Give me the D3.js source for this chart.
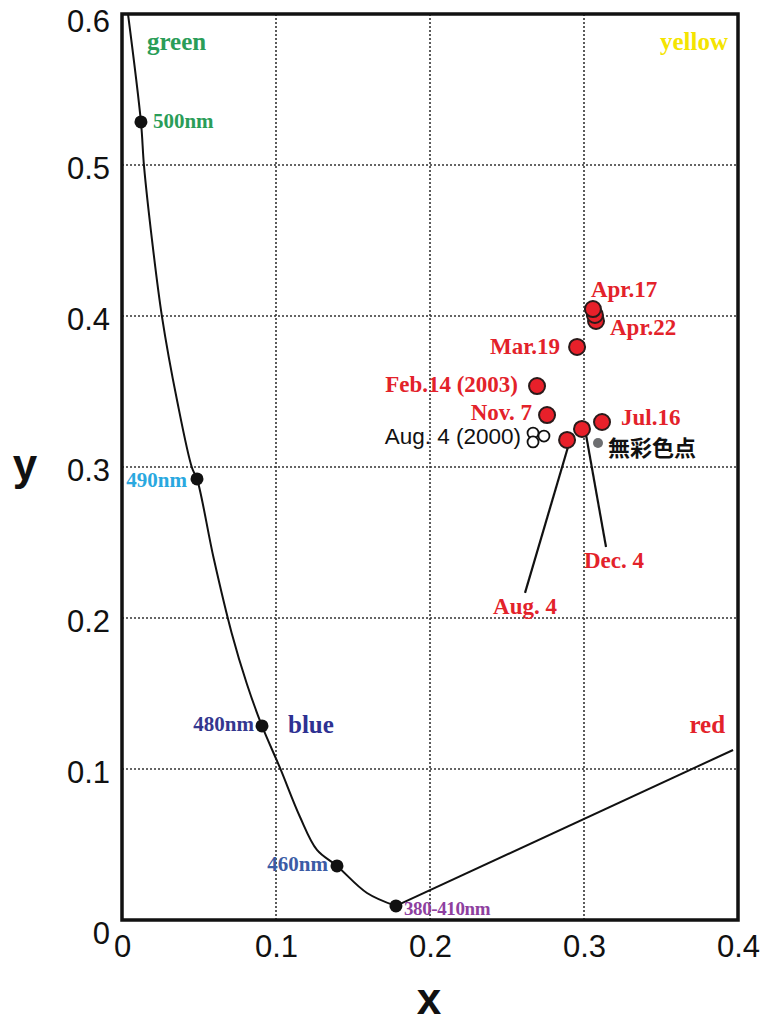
<!DOCTYPE html>
<html>
<head>
<meta charset="utf-8">
<script src="https://cdn.jsdelivr.net/npm/d3@7"></script>
<style>
  body { margin: 0; background: #fff; }
  svg { display: block; }
</style>
</head>
<body>
<svg class="main-svg" width="764" height="1023"></svg>
<script>
// spectral locus (chromaticity x, y)
const locus = [
  [0.0039, 0.600], [0.0123, 0.5285], [0.0143, 0.4993], [0.0195, 0.4503],
  [0.0260, 0.3993], [0.0357, 0.3444], [0.0455, 0.2993], [0.0487, 0.2921],
  [0.0595, 0.2397], [0.0712, 0.1901], [0.0811, 0.1563], [0.0909, 0.1285],
  [0.1026, 0.1007], [0.1156, 0.0682], [0.1266, 0.0464], [0.1396, 0.0358],
  [0.1591, 0.0179], [0.1779, 0.0093]
];
// purple line toward red
const purpleLine = [[0.1779, 0.0093], [0.3968, 0.1126]];

const wavelengths = ["500nm", "490nm", "480nm", "460nm", "380-410nm"];
const waveX = [0.0123, 0.0487, 0.0909, 0.1396, 0.1779];
const waveY = [0.5285, 0.2921, 0.1285, 0.0358, 0.0093];

const dates = ["Aug. 4", "Dec. 4", "Jul.16", "Nov. 7", "Feb.14 (2003)", "Mar.19", "Apr.22", "", "Apr.17"];
const dateX = [0.2890, 0.2987, 0.3117, 0.2760, 0.2695, 0.2955, 0.3078, 0.3071, 0.3058];
const dateY = [0.3179, 0.3252, 0.3298, 0.3344, 0.3536, 0.3795, 0.3967, 0.4007, 0.4046];

// Aug. 4 (2000) open circles
const oldX = [0.2669, 0.2669, 0.2740];
const oldY = [0.3225, 0.3166, 0.3205];

// achromatic point
const whitePoint = [0.3091, 0.3159];

// leader line ends for Aug. 4 / Dec. 4
const leaderEnds = [[0.2617, 0.2166], [0.3143, 0.2470]];

const xTicks = [0, 0.1, 0.2, 0.3, 0.4];
const yTicks = [0, 0.1, 0.2, 0.3, 0.4, 0.5, 0.6];

const svg = d3.select(".main-svg");
const plotL = 122, plotR = 738, plotT = 14, plotB = 920;

const x = d3.scaleLinear().domain([0, 0.4]).range([plotL, plotR]);
const y = d3.scaleLinear().domain([0, 0.6]).range([plotB, plotT]);

const serif = "'Liberation Serif', 'Times New Roman', serif";
const sans = "'Liberation Sans', Arial, Helvetica, sans-serif";

// grid
const grid = svg.append("g")
  .attr("stroke", "#333")
  .attr("stroke-width", 1.6)
  .attr("stroke-dasharray", "2,2");

grid.selectAll(".gx")
  .data(xTicks.slice(1, -1))
  .join("line")
    .attr("class", "gx")
    .attr("x1", d => x(d)).attr("x2", d => x(d))
    .attr("y1", plotT).attr("y2", plotB);

grid.selectAll(".gy")
  .data(yTicks.slice(1, -1))
  .join("line")
    .attr("class", "gy")
    .attr("x1", plotL).attr("x2", plotR)
    .attr("y1", d => y(d)).attr("y2", d => y(d));

// axes tick labels
const fmt = d => d === 0 ? "0" : d3.format(".1f")(d);

const xAxis = svg.append("g")
  .attr("transform", `translate(0,${plotB})`)
  .call(d3.axisBottom(x).tickValues(xTicks).tickSize(0).tickPadding(15).tickFormat(fmt));
xAxis.select(".domain").remove();
xAxis.selectAll("text")
  .attr("font-family", sans)
  .attr("font-size", 31)
  .attr("fill", "#111");

const yAxis = svg.append("g")
  .attr("transform", `translate(${plotL},0)`)
  .call(d3.axisLeft(y).tickValues(yTicks).tickSize(0).tickPadding(12).tickFormat(fmt));
yAxis.select(".domain").remove();
yAxis.selectAll("text")
  .attr("font-family", sans)
  .attr("font-size", 31)
  .attr("fill", "#111")
  .attr("dy", d => d === 0 ? "0.75em" : d === 0.6 ? "0.55em" : "0.42em");

// axis titles
svg.append("text")
  .attr("x", 25).attr("y", 480)
  .attr("text-anchor", "middle")
  .attr("font-family", sans)
  .attr("font-weight", "bold")
  .attr("font-size", 44)
  .attr("fill", "#111")
  .text("y");

svg.append("text")
  .attr("x", 429).attr("y", 1014)
  .attr("text-anchor", "middle")
  .attr("font-family", sans)
  .attr("font-weight", "bold")
  .attr("font-size", 44)
  .attr("fill", "#111")
  .text("x");

// locus curve
const line = d3.line().x(d => x(d[0])).y(d => y(d[1]));

svg.append("path")
  .datum(locus)
  .attr("d", line.curve(d3.curveCatmullRom))
  .attr("fill", "none")
  .attr("stroke", "#111")
  .attr("stroke-width", 2);

svg.append("path")
  .datum(purpleLine)
  .attr("d", d3.line().x(d => x(d[0])).y(d => y(d[1])))
  .attr("fill", "none")
  .attr("stroke", "#111")
  .attr("stroke-width", 2);

// frame
svg.append("rect")
  .attr("x", plotL).attr("y", plotT)
  .attr("width", plotR - plotL).attr("height", plotB - plotT)
  .attr("fill", "none")
  .attr("stroke", "#111")
  .attr("stroke-width", 3.5);

// region names
const regions = [
  { name: "green", x: 0.0162, y: 0.5762, anchor: "start", color: "#2a9d58" },
  { name: "yellow", x: 0.3935, y: 0.5762, anchor: "end", color: "#f4e400" },
  { name: "blue", x: 0.1078, y: 0.1238, anchor: "start", color: "#2e3192" },
  { name: "red", x: 0.3916, y: 0.1238, anchor: "end", color: "#e3222a" }
];
svg.append("g")
  .selectAll("text")
  .data(regions)
  .join("text")
    .attr("x", d => x(d.x))
    .attr("y", d => y(d.y))
    .attr("text-anchor", d => d.anchor)
    .attr("font-family", serif)
    .attr("font-weight", "bold")
    .attr("font-size", 25)
    .attr("fill", d => d.color)
    .text(d => d.name);

// wavelength dots + labels
const waveStyle = [
  { dx: 12, dy: 6, anchor: "start", color: "#2a9d58", size: 21 },
  { dx: -10, dy: 8, anchor: "end", color: "#29a8e0", size: 21 },
  { dx: -8, dy: 5, anchor: "end", color: "#34378f", size: 21 },
  { dx: -9, dy: 5, anchor: "end", color: "#3b5ba5", size: 21 },
  { dx: 8, dy: 9, anchor: "start", color: "#8e3f9f", size: 19 }
];
const waves = wavelengths.map((w, i) => ({ name: w, x: waveX[i], y: waveY[i], ...waveStyle[i] }));

svg.append("g")
  .selectAll("circle")
  .data(waves)
  .join("circle")
    .attr("cx", d => x(d.x))
    .attr("cy", d => y(d.y))
    .attr("r", 6.5)
    .attr("fill", "#111");

svg.append("g")
  .selectAll("text")
  .data(waves)
  .join("text")
    .attr("x", d => x(d.x) + d.dx)
    .attr("y", d => y(d.y) + d.dy)
    .attr("text-anchor", d => d.anchor)
    .attr("font-family", serif)
    .attr("font-weight", "bold")
    .attr("font-size", d => d.size)
    .attr("letter-spacing", d => d.size < 20 ? -0.4 : 0)
    .attr("fill", d => d.color)
    .text(d => d.name);

// leader lines (Aug. 4, Dec. 4)
const leaders = leaderEnds.map((e, i) => ({ from: [dateX[i], dateY[i]], to: e, name: dates[i] }));
svg.append("g")
  .selectAll("line")
  .data(leaders)
  .join("line")
    .attr("x1", d => x(d.from[0]) + 3)
    .attr("y1", d => y(d.from[1]))
    .attr("x2", d => x(d.to[0]))
    .attr("y2", d => y(d.to[1]))
    .attr("stroke", "#111")
    .attr("stroke-width", 2.2);

// old measurements (open circles)
const olds = oldX.map((v, i) => ({ x: v, y: oldY[i] }));
svg.append("g")
  .selectAll("circle")
  .data(olds)
  .join("circle")
    .attr("cx", d => x(d.x))
    .attr("cy", d => y(d.y))
    .attr("r", 5.5)
    .attr("fill", "#fff")
    .attr("stroke", "#111")
    .attr("stroke-width", 1.8);

svg.append("text")
  .attr("x", x(oldX[0]) - 12)
  .attr("y", y(oldY[0]) + 11)
  .attr("text-anchor", "end")
  .attr("font-family", sans)
  .attr("font-size", 22.5)
  .attr("fill", "#111")
  .text("Aug. 4 (2000)");

// achromatic point
svg.append("circle")
  .attr("cx", x(whitePoint[0]))
  .attr("cy", y(whitePoint[1]))
  .attr("r", 5)
  .attr("fill", "#6d6e71");

svg.append("text")
  .attr("x", x(whitePoint[0]) + 10)
  .attr("y", y(whitePoint[1]) + 13)
  .attr("font-family", "'Noto Sans CJK JP', sans-serif")
  .attr("font-weight", "bold")
  .attr("font-size", 22)
  .attr("fill", "#111")
  .text("無彩色点");

// red measurement dots
const obs = dates.map((d, i) => ({ name: d, x: dateX[i], y: dateY[i] }));
svg.append("g")
  .selectAll("circle")
  .data(obs)
  .join("circle")
    .attr("cx", d => x(d.x))
    .attr("cy", d => y(d.y))
    .attr("r", 8)
    .attr("fill", "#e8202a")
    .attr("stroke", "#2a1a1a")
    .attr("stroke-width", 2);

const dateLabelPos = {
  "Apr.17": { dx: -2, dy: -12, anchor: "start" },
  "Apr.22": { dx: 14, dy: 14, anchor: "start" },
  "Mar.19": { dx: -17, dy: 7, anchor: "end" },
  "Feb.14 (2003)": { dx: -19, dy: 6, anchor: "end" },
  "Nov. 7": { dx: -15, dy: 5, anchor: "end" },
  "Jul.16": { dx: 19, dy: 3, anchor: "start" }
};
const redText = svg.append("g")
  .attr("font-family", serif)
  .attr("font-weight", "bold")
  .attr("font-size", 23)
  .attr("fill", "#e3222a");

redText.selectAll("text.pt")
  .data(obs.filter(d => dateLabelPos[d.name]))
  .join("text")
    .attr("class", "pt")
    .attr("x", d => x(d.x) + dateLabelPos[d.name].dx)
    .attr("y", d => y(d.y) + dateLabelPos[d.name].dy)
    .attr("text-anchor", d => dateLabelPos[d.name].anchor)
    .text(d => d.name);

redText.selectAll("text.ld")
  .data(leaders)
  .join("text")
    .attr("class", "ld")
    .attr("x", (d, i) => x(d.to[0]) + (i === 0 ? 0 : 8))
    .attr("y", d => y(d.to[1]) + 21)
    .attr("text-anchor", "middle")
    .text(d => d.name);
</script>
</body>
</html>
